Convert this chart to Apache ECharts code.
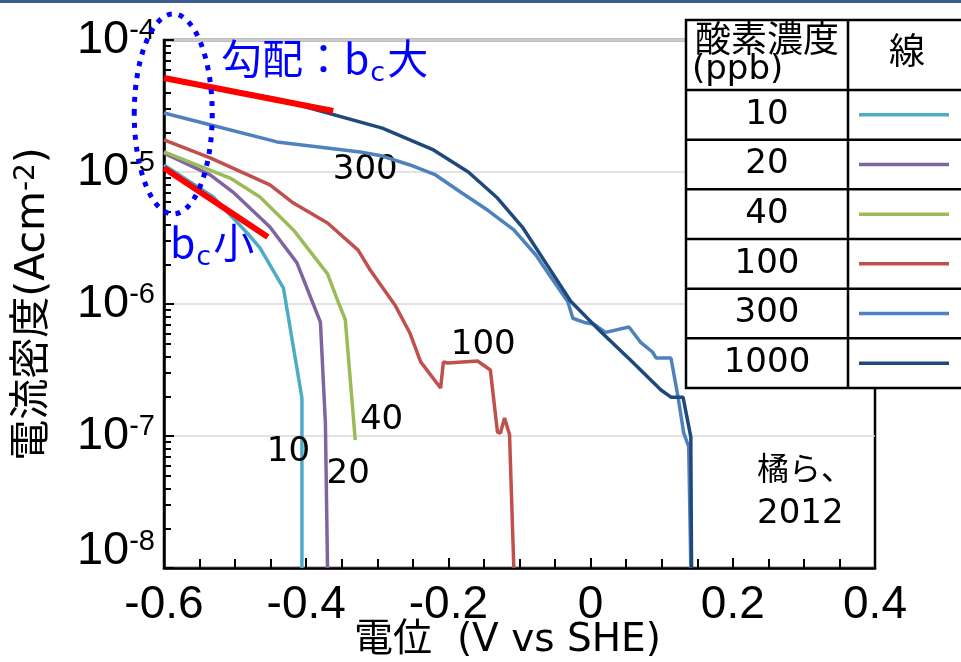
<!DOCTYPE html>
<html>
<head>
<meta charset="utf-8">
<script src="https://cdn.jsdelivr.net/npm/echarts@6/dist/echarts.min.js"></script>
<style>
  html, body { margin: 0; padding: 0; background: #ffffff; }
  #chart { width: 961px; height: 662px; }
</style>
</head>
<body>
<div id="chart"></div>
<script>
// Cathodic polarization curves of carbon steel for several dissolved-oxygen levels.
// Each series: [potential (V vs SHE), current density (A/cm^2)]
const concentrations = ['10', '20', '40', '100', '300', '1000'];
const lineColors = ['#4bacc6', '#8064a2', '#9bbb59', '#c0504d', '#4f81bd', '#1f497d'];

const ppb10 = [[-0.6, 1.13e-5], [-0.531, 6.5e-6], [-0.483, 3.45e-6], [-0.465, 2.66e-6],
  [-0.432, 1.32e-6], [-0.406, 1.94e-7], [-0.406, 1e-8]];
const ppb20 = [[-0.6, 1.39e-5], [-0.535, 9.5e-6], [-0.503, 7.05e-6], [-0.451, 3.83e-6],
  [-0.413, 2.05e-6], [-0.380, 7.3e-7], [-0.373, 1.25e-7], [-0.370, 1e-8]];
const ppb40 = [[-0.6, 1.42e-5], [-0.507, 9.0e-6], [-0.465, 6.47e-6], [-0.418, 3.64e-6],
  [-0.370, 1.69e-6], [-0.356, 1.07e-6], [-0.345, 7.6e-7], [-0.331, 9.3e-8]];
const ppb100 = [[-0.6, 1.75e-5], [-0.535, 1.28e-5], [-0.451, 7.98e-6], [-0.418, 5.82e-6],
  [-0.370, 4.11e-6], [-0.327, 2.56e-6], [-0.310, 1.81e-6], [-0.275, 9.8e-7],
  [-0.254, 6.0e-7], [-0.239, 3.64e-7], [-0.211, 2.31e-7], [-0.207, 3.64e-7],
  [-0.201, 3.57e-7], [-0.159, 3.7e-7], [-0.141, 3.16e-7], [-0.131, 1.07e-7],
  [-0.127, 1.05e-7], [-0.121, 1.37e-7], [-0.114, 1.02e-7], [-0.108, 1e-8]];
const ppb300 = [[-0.6, 2.8e-5], [-0.545, 2.35e-5], [-0.441, 1.69e-5], [-0.324, 1.42e-5],
  [-0.293, 1.32e-5], [-0.254, 1.13e-5], [-0.218, 9.5e-6], [-0.183, 7.05e-6],
  [-0.145, 5.15e-6], [-0.108, 3.64e-6], [-0.077, 2.35e-6], [-0.056, 1.6e-6],
  [-0.032, 1.04e-6], [-0.025, 7.8e-7], [-0.007, 7.2e-7], [0.004, 7.05e-7],
  [0.021, 6.1e-7], [0.054, 6.7e-7], [0.070, 5.15e-7], [0.087, 4.33e-7],
  [0.092, 3.9e-7], [0.113, 3.9e-7], [0.123, 1.97e-7], [0.131, 1.05e-7],
  [0.138, 8.3e-8], [0.141, 1e-8]];
const ppb1000 = [[-0.6, 5.15e-5], [-0.441, 3.57e-5], [-0.293, 2.15e-5], [-0.221, 1.47e-5],
  [-0.172, 1.0e-5], [-0.131, 6.35e-6], [-0.096, 3.83e-6], [-0.061, 1.97e-6],
  [-0.028, 1.05e-6], [0.014, 6.2e-7], [0.056, 3.77e-7], [0.099, 2.23e-7],
  [0.113, 1.97e-7], [0.130, 1.97e-7], [0.141, 9.8e-8], [0.141, 7.8e-8], [0.142, 1e-8]];
const curveData = [ppb10, ppb20, ppb40, ppb100, ppb300, ppb1000];

// where each curve's concentration tag sits (potential, current density)
const tagAnchors = [[-0.425, 7.6e-8], [-0.341, 5.1e-8], [-0.294, 1.32e-7],
  [-0.151, 4.9e-7], [-0.317, 1.04e-5], null];

// Tafel slope guides
const tafelLarge = [[-0.6, 5.15e-5], [-0.362, 2.9e-5]];
const tafelSmall = [[-0.6, 1.07e-5], [-0.454, 3.22e-6]];

const xTickLabels = ['-0.6', '-0.4', '-0.2', '0', '0.2', '0.4'];
const yMinorTicks = [];
for (let e = -8; e < -4; e++) {
  for (let m = 2; m <= 9; m++) yMinorTicks.push(m * Math.pow(10, e));
}

const axisFont = '"Liberation Sans", "Noto Sans CJK JP", sans-serif';
const textFont = '"DejaVu Sans", "Noto Sans CJK JP", sans-serif';
const cjkFont = '"Noto Sans CJK JP", "DejaVu Sans", sans-serif';

const chart = echarts.init(document.getElementById('chart'), null, { renderer: 'canvas' });

const series = curveData.map((d, i) => {
  const s = {
    name: concentrations[i] + ' ppb',
    type: 'line',
    data: d,
    symbol: 'none',
    color: lineColors[i],
    lineStyle: { width: 3.5, color: lineColors[i] },
    z: 3 + i,
    animation: false
  };
  if (tagAnchors[i]) {
    s.markPoint = {
      symbol: 'circle',
      symbolSize: 0,
      silent: true,
      data: [{ coord: tagAnchors[i], value: concentrations[i] }],
      label: {
        show: true, position: 'inside', formatter: concentrations[i],
        color: '#000', fontSize: 34, fontFamily: textFont
      }
    };
  }
  return s;
});

[tafelLarge, tafelSmall].forEach((d) => {
  series.push({
    type: 'line', data: d, symbol: 'none', z: 20, animation: false,
    lineStyle: { width: 6, color: '#ff0000', cap: 'butt' }
  });
});

chart.setOption({
  animation: false,
  backgroundColor: '#ffffff',
  grid: {
    left: 164, top: 40, right: 86, bottom: 94,
    containLabel: false, outerBoundsMode: 'none',
    show: true, borderColor: '#000', borderWidth: 2.5, backgroundColor: 'transparent'
  },
  xAxis: {
    type: 'value', min: -0.6, max: 0.4, interval: 0.2,
    name: '電位  (V vs SHE)', nameLocation: 'middle', nameGap: 53, nameMoveOverlap: false,
    nameTextStyle: { fontSize: 39, color: '#000', fontFamily: textFont, padding: [0, 24, 0, 0] },
    axisLine: { show: true, onZero: false, lineStyle: { color: '#000', width: 2.5 } },
    axisTick: { show: true, inside: true, length: 10, lineStyle: { color: '#000', width: 2 } },
    minorTick: { show: true, splitNumber: 4, length: 9, lineStyle: { color: '#000', width: 2 } },
    splitLine: { show: false },
    axisLabel: {
      color: '#000', fontSize: 46, fontFamily: axisFont, margin: 14,
      formatter: (v) => xTickLabels[Math.round((v + 0.6) / 0.2)]
    }
  },
  yAxis: [{
    type: 'log', logBase: 10, min: 1e-8, max: 1e-4, splitNumber: 4,
    position: 'left',
    name: '電流密度(Acm{s|-2})', nameLocation: 'middle', nameGap: 110, nameMoveOverlap: false,
    nameTextStyle: {
      fontSize: 41, color: '#000', fontFamily: textFont,
      rich: { s: { fontSize: 28, verticalAlign: 'top', color: '#000', fontFamily: textFont } }
    },
    axisLine: { show: true, onZero: false, lineStyle: { color: '#000', width: 2.5 } },
    axisTick: { show: true, inside: true, length: 10, lineStyle: { color: '#000', width: 2 } },
    splitLine: { show: true, lineStyle: { color: '#d9d9d9', width: 1.5 } },
    axisLabel: {
      margin: 9,
      formatter: (v) => {
        const e = Math.round(Math.log10(v));
        return e === -8 ? '{n8|10}{e8|' + e + '}' : '{n|10}{e|' + e + '}';
      },
      rich: {
        n: { fontSize: 47, color: '#000', fontFamily: axisFont },
        e: { fontSize: 29, color: '#000', fontFamily: axisFont, verticalAlign: 'top' },
        n8: { fontSize: 47, color: '#000', fontFamily: axisFont, padding: [0, 0, 34, 0] },
        e8: { fontSize: 29, color: '#000', fontFamily: axisFont, verticalAlign: 'top' }
      }
    }
  }, {
    // log-spaced minor ticks (2..9 per decade)
    type: 'log', logBase: 10, min: 1e-8, max: 1e-4, position: 'left',
    axisLine: { show: false, onZero: false },
    axisLabel: { show: false },
    splitLine: { show: false },
    axisTick: { show: true, inside: true, length: 7, customValues: yMinorTicks,
      lineStyle: { color: '#000', width: 2 } }
  }],
  series: series
});

// annotations and the legend table
function drawOverlay() {
  const ovalCenter = chart.convertToPixel({ xAxisIndex: 0, yAxisIndex: 0 }, [-0.587, 2.75e-5]);
  const elements = [];

  elements.push({
    type: 'rect', z: 200, shape: { x: 0, y: 0, width: 961, height: 3 },
    style: { fill: '#3a5f8f' }
  });

  elements.push({
    type: 'ellipse', z: 150,
    shape: { cx: ovalCenter[0], cy: ovalCenter[1], rx: 39, ry: 100 },
    style: { fill: 'none', stroke: '#0000ff', lineWidth: 5, lineDash: [5, 7], lineCap: 'butt' }
  });

  const subStyle = { fontSize: 27, fill: '#0000ff', fontFamily: textFont,
    verticalAlign: 'top', padding: [30, 2, 0, 1] };
  elements.push({
    type: 'text', z: 150, left: 221, top: 38,
    style: {
      text: '勾配：b{s|c}大', fill: '#0000ff', fontSize: 41, fontFamily: cjkFont,
      rich: { s: subStyle }
    }
  });
  elements.push({
    type: 'text', z: 150, left: 170, top: 222,
    style: {
      text: 'b{s|c}小', fill: '#0000ff', fontSize: 41, fontFamily: cjkFont,
      rich: { s: subStyle }
    }
  });

  elements.push({
    type: 'text', z: 150, left: 757, top: 452,
    style: { text: '橘ら、', fill: '#000', fontSize: 32, fontFamily: cjkFont }
  });
  elements.push({
    type: 'text', z: 150, left: 757, top: 497,
    style: { text: '2012', fill: '#000', fontSize: 34, fontFamily: textFont }
  });

  // legend table
  const tx = 686, ty = 20, colSplit = 848, headerBottom = 90, tableBottom = 388, tRight = 980;
  const rowH = (tableBottom - headerBottom) / concentrations.length;
  const stroke = { stroke: '#000', lineWidth: 2.5 };
  elements.push({
    type: 'rect', z: 180,
    shape: { x: tx, y: ty, width: tRight - tx, height: tableBottom - ty },
    style: Object.assign({ fill: '#fff' }, stroke)
  });
  elements.push({
    type: 'line', z: 181, shape: { x1: colSplit, y1: ty, x2: colSplit, y2: tableBottom }, style: stroke
  });
  for (let i = 0; i < concentrations.length; i++) {
    const y = headerBottom + i * rowH;
    elements.push({
      type: 'line', z: 181, shape: { x1: tx, y1: y, x2: tRight, y2: y }, style: stroke
    });
    const cy = y + rowH / 2;
    elements.push({
      type: 'text', z: 182, x: (tx + colSplit) / 2, y: cy,
      style: { text: concentrations[i], fill: '#000', fontSize: 34, fontFamily: textFont,
        align: 'center', verticalAlign: 'middle' }
    });
    elements.push({
      type: 'line', z: 182, shape: { x1: 859, y1: cy, x2: 949, y2: cy },
      style: { stroke: lineColors[i], lineWidth: 3.5 }
    });
  }
  elements.push({
    type: 'text', z: 182, x: (tx + colSplit) / 2, y: 38,
    style: { text: '酸素濃度', fill: '#000', fontSize: 36, fontFamily: cjkFont,
      align: 'center', verticalAlign: 'middle' }
  });
  elements.push({
    type: 'text', z: 182, x: 692, y: 70,
    style: { text: '(ppb)', fill: '#000', fontSize: 34, fontFamily: textFont,
      align: 'left', verticalAlign: 'middle' }
  });
  elements.push({
    type: 'text', z: 182, x: 907, y: 50,
    style: { text: '線', fill: '#000', fontSize: 36, fontFamily: cjkFont,
      align: 'center', verticalAlign: 'middle' }
  });

  chart.setOption({ graphic: { elements: elements } });
}
drawOverlay();
</script>
</body>
</html>
